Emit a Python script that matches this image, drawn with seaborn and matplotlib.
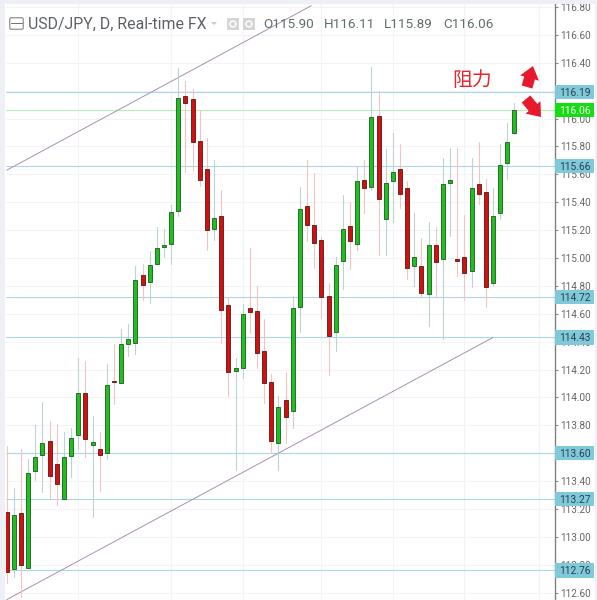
import pandas as pd
import matplotlib
matplotlib.use("Agg")
import matplotlib.pyplot as plt
from matplotlib.patches import FancyArrowPatch, FancyBboxPatch, Rectangle, Polygon
import seaborn as sns

# Daily candles
opens = [113.18, 112.77, 113.17, 112.78, 113.47, 113.59, 113.69, 113.52, 113.27, 113.58,
         113.73, 114.03, 113.66, 113.63, 113.60, 114.12, 114.10, 114.38, 114.39, 114.88,
         114.83, 114.96, 115.08, 115.10, 115.34, 116.16, 116.14, 115.84, 115.64, 115.21,
         115.30, 114.66, 114.19, 114.21, 114.64, 114.62, 114.33, 114.11, 113.67, 113.98,
         113.90, 114.65, 115.37, 115.24, 115.13, 114.73, 114.47, 114.98, 115.23, 115.10,
         115.56, 115.51, 116.02, 115.28, 115.55, 115.64, 115.50, 114.94, 114.94, 114.74,
         115.09, 114.99, 115.54, 114.99, 115.01, 114.91, 115.53, 115.47, 114.82, 115.32,
         115.68, 115.90]
highs = [113.65, 113.35, 113.63, 113.56, 113.80, 113.97, 113.83, 113.81, 113.75, 113.78,
         114.28, 114.26, 113.87, 113.75, 114.24, 114.38, 114.49, 114.53, 114.94, 114.96,
         115.05, 115.22, 115.21, 115.38, 116.36, 116.27, 116.21, 116.06, 115.86, 115.70,
         115.49, 114.72, 114.28, 114.67, 115.07, 114.80, 114.56, 114.17, 114.01, 114.18,
         114.73, 115.51, 115.70, 115.61, 115.15, 114.82, 115.01, 115.45, 115.40, 115.65,
         115.70, 116.37, 116.20, 115.78, 115.90, 115.82, 115.55, 115.32, 115.14, 115.26,
         115.22, 115.72, 115.79, 115.79, 115.31, 115.72, 115.83, 115.57, 115.50, 115.82,
         115.97, 116.11]
lows = [112.67, 112.71, 112.57, 112.78, 113.41, 113.32, 113.28, 113.23, 113.27, 113.43,
        113.63, 113.57, 113.14, 113.33, 113.56, 113.95, 114.10, 114.30, 114.31, 114.70,
        114.68, 114.96, 115.01, 114.96, 115.30, 115.62, 115.63, 115.52, 115.06, 115.13,
        114.39, 114.01, 113.48, 114.14, 114.46, 114.21, 113.96, 113.60, 113.48, 113.67,
        113.78, 114.47, 115.12, 114.93, 114.57, 114.16, 114.33, 114.78, 114.92, 115.06,
        115.32, 115.49, 115.02, 115.02, 115.26, 115.36, 114.85, 114.80, 114.73, 114.51,
        114.73, 114.42, 115.16, 114.87, 114.70, 114.79, 115.39, 114.65, 114.80, 115.28,
        115.57, 115.89]
closes = [112.75, 113.16, 112.80, 113.46, 113.57, 113.67, 113.44, 113.38, 113.57, 113.71,
          114.03, 113.70, 113.68, 113.59, 114.09, 114.11, 114.38, 114.42, 114.84, 114.81,
          114.95, 115.07, 115.09, 115.33, 116.15, 116.11, 115.83, 115.56, 115.20, 115.29,
          114.63, 114.18, 114.21, 114.60, 114.61, 114.32, 114.10, 113.69, 113.93, 113.86,
          114.64, 115.35, 115.24, 115.11, 114.72, 114.44, 114.95, 115.21, 115.12, 115.55,
          115.50, 116.01, 115.42, 115.54, 115.62, 115.46, 114.93, 115.01, 114.75, 115.09,
          114.97, 115.53, 115.56, 114.98, 114.89, 115.50, 115.46, 114.79, 115.30, 115.67,
          115.83, 116.06]

blue_levels = [116.19, 115.66, 114.72, 114.43, 113.60, 113.27, 112.76]
last_price = 116.06
y_ticks = [112.6, 112.8, 113.0, 113.2, 113.4, 113.6, 113.8, 114.0, 114.2, 114.4, 114.6,
           114.8, 115.0, 115.2, 115.4, 115.6, 115.8, 116.0, 116.2, 116.4, 116.6, 116.8]
grid_x = [10, 23, 33, 44, 54, 64, 74.4]

upper_x, upper_y = [0, 42.6], [115.63, 116.81]
lower_x, lower_y = [0, 68], [112.55, 114.43]

RED, GREEN = "#d3100f", "#1fbf20"
W, H = 597, 600

sns.set_theme(style="white")
plt.rcParams["font.family"] = ["Roboto", "Noto Sans CJK SC", "DejaVu Sans"]

fig = plt.figure(figsize=(W / 100, H / 100), dpi=100, facecolor="white")
ax = fig.add_axes([6 / W, 0, (554.5 - 6) / W, 596 / H])
ax.set_xlim(-0.1, 76.6)
ax.set_ylim(112.547, 116.822)


def px(x, y):
    return x / W, 1 - y / H


df = pd.DataFrame({"i": range(len(opens)), "open": opens, "high": highs, "low": lows, "close": closes})
df["up"] = df["close"] >= df["open"]
df.loc[[15], "up"] = False

# grid and levels
ax.set_yticks(y_ticks)
ax.set_yticklabels([f"{t:.2f}" for t in y_ticks])
ax.yaxis.tick_right()
ax.set_xticks(grid_x)
ax.set_xticklabels([])
ax.grid(True, color="#f1f3f6", lw=0.8)
ax.set_axisbelow(True)
ax.tick_params(axis="y", length=2.5, width=0.8, color="#8a8a8a", labelcolor="#666666",
               labelsize=7.2, pad=1.8, right=True)
ax.tick_params(axis="x", length=0)
for side in ["left", "top", "bottom"]:
    ax.spines[side].set_visible(False)
ax.spines["right"].set_color("#808080")
ax.spines["right"].set_linewidth(1.0)

for lvl in blue_levels:
    ax.axhline(lvl, color="#a8d8e6", lw=0.8, zorder=1.6)
ax.axhline(last_price, color="#b8ecb8", lw=0.8, zorder=1.6)

# wicks
wicks = df.melt(id_vars=["i", "up"], value_vars=["high", "low"], value_name="price")
sns.lineplot(data=wicks, x="i", y="price", units="i", estimator=None, hue="up",
             palette={True: "#bcd2d4", False: "#f3c4c6"}, lw=0.8, legend=False, sort=False, ax=ax, zorder=2)

# trend channel
for tx, ty in [(upper_x, upper_y), (lower_x, lower_y)]:
    sns.lineplot(x=tx, y=ty, color="#a98fb2", lw=0.7, ax=ax, zorder=1.8)
ax.set_xlabel("")
ax.set_ylabel("")

# candle bodies
for up, face, edge in [(True, GREEN, "#1c5a1c"), (False, RED, "#5a1414")]:
    part = df[df["up"] == up]
    bottoms = part[["open", "close"]].min(axis=1)
    heights = (part["close"] - part["open"]).abs()
    ax.bar(part["i"], heights, bottom=bottoms, width=0.56, color=face, edgecolor=edge, lw=0.6, zorder=3)

# price tags on the axis
tag_trans = ax.get_yaxis_transform()
tag_w = 40 / 548.5
tag_h = 14.5 / 139.4
for lvl in blue_levels + [last_price]:
    live = lvl == last_price
    ax.add_patch(Rectangle((1.0, lvl - tag_h / 2), tag_w, tag_h, transform=tag_trans, clip_on=False,
                           fc="#12de12" if live else "#80c9da", ec="none", zorder=5))
    ax.text(1.0 + tag_w / 2, lvl, f"{lvl:.2f}", transform=tag_trans, ha="center", va="center_baseline",
            fontsize=7.4, color="white" if live else "#27414c", zorder=6, clip_on=False)

# legend line at the top
fig.text(*px(28, 24), "USD/JPY, D, Real-time FX", fontsize=11.4, color="#5d6166", va="center", zorder=8)
for xp, txt in [(263, "O115.90"), (324, "H116.11"), (384, "L115.89"), (443, "C116.06")]:
    fig.text(*px(xp, 24), txt, fontsize=9.7, color="#5d6f66", va="center", zorder=8)

# legend icons
fig.add_artist(FancyBboxPatch(px(11, 28), 11 / W, 9 / H, boxstyle="round,pad=0.002", fc="none", ec="#707070",
                              lw=0.7, transform=fig.transFigure, zorder=8))
fig.add_artist(plt.Line2D([11 / W, 22 / W], [1 - 23 / H] * 2, color="#707070", lw=0.7, zorder=8))
fig.add_artist(Polygon([px(211, 22), px(217, 22), px(214, 25)], fc="#c8c8c8", ec="none",
                       transform=fig.transFigure, zorder=8))
for xp in [227, 243]:
    fig.add_artist(Rectangle(px(xp, 30), 12 / W, 12 / H, fc="#d5d5d5", ec="none",
                             transform=fig.transFigure, zorder=8))
    fig.add_artist(plt.Circle(px(xp + 6, 24), 3.0 / W, fc="none", ec="white", lw=1.0,
                              transform=fig.transFigure, zorder=9))

# hand drawn note
fig.text(*px(472, 81), "阻力", fontsize=14.3, color="#e8272c", ha="center", va="center", zorder=8,
         family=["Noto Sans CJK SC", "DejaVu Sans"])
for tail, tip in [((527, 87), (533, 66)), ((526, 99), (541, 117))]:
    fig.add_artist(FancyArrowPatch(px(*tail), px(*tip), transform=fig.transFigure,
                                   arrowstyle="simple,head_length=9,head_width=14,tail_width=8",
                                   mutation_scale=1, fc="#e8192c", ec="none", shrinkA=0, shrinkB=0, zorder=8))

# screenshot chrome
fig.add_artist(Rectangle((0, 1 - 4 / H), 1, 4 / H, fc="#eef0f5", ec="none", transform=fig.transFigure, zorder=10))
fig.add_artist(Rectangle((0, 0), 5 / W, 1, fc="#eef0f5", ec="none", transform=fig.transFigure, zorder=10))
fig.add_artist(Rectangle((595 / W, 0), 2 / W, 1, fc="#eef0f5", ec="none", transform=fig.transFigure, zorder=10))

fig.savefig("out.png", dpi=100)
